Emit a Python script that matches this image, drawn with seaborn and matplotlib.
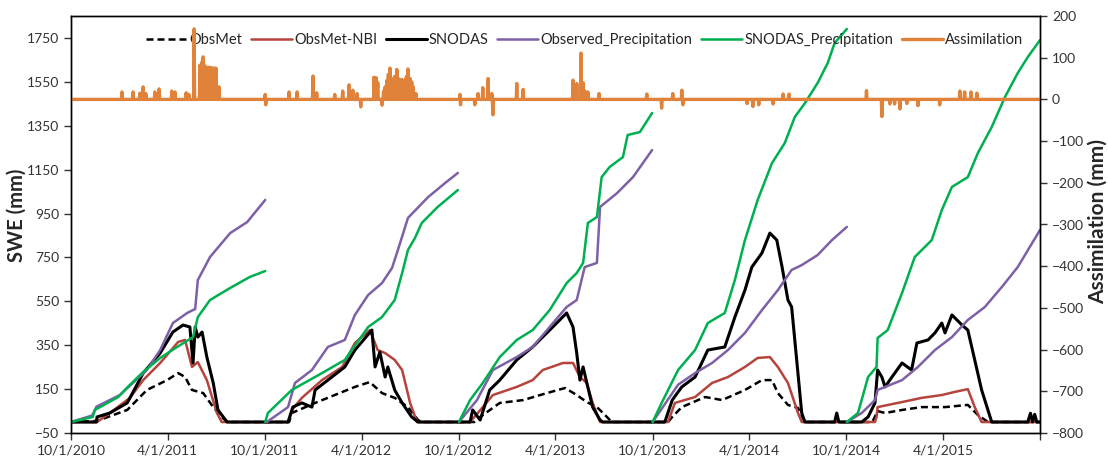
import numpy as np
import pandas as pd
import matplotlib
matplotlib.use('Agg')
import matplotlib.pyplot as plt
import seaborn as sns
from matplotlib.lines import Line2D

START = pd.Timestamp('2010-10-01')
END = pd.Timestamp('2015-10-01')

# day of record (days since 10/1/2010) and SWE in mm, one line per water year
OBSMET_DAY = [0, 49, 106, 143, 181, 202, 215, 228, 249, 268, 286, 296,
              411, 416, 460, 497, 535, 563, 586, 610, 635, 654, 661,
              760, 771, 808, 852, 897, 931, 953, 972, 991, 1010, 1019,
              1125, 1133, 1151, 1195, 1227, 1270, 1302, 1321, 1332, 1351, 1370, 1383,
              1510, 1520, 1534, 1566, 1603, 1647, 1690, 1709, 1728, 1826]
OBSMET_SWE = [0, 5, 55, 146, 191, 223, 205, 146, 132, 68, 18, 0,
              0, 41, 87, 123, 160, 182, 132, 110, 68, 9, 0,
              0, 23, 87, 100, 132, 155, 123, 91, 68, 23, 0,
              0, 23, 68, 114, 100, 146, 191, 191, 132, 78, 64, 0,
              0, 50, 41, 55, 68, 68, 78, 32, 0, 0]

NBI_DAY = [0, 49, 73, 111, 136, 168, 202, 215, 228, 239, 256, 275, 284,
           409, 418, 435, 473, 511, 535, 563, 578, 592, 610, 624, 639, 652,
           752, 776, 795, 840, 870, 889, 927, 946, 959, 972, 983, 997,
           1125, 1138, 1176, 1208, 1238, 1270, 1294, 1317, 1332, 1351, 1370, 1377,
           1515, 1518, 1520, 1566, 1603, 1641, 1665, 1690, 1703, 1716, 1826]
NBI_SWE = [0, 0, 41, 110, 191, 269, 365, 374, 251, 273, 191, 41, 0,
           0, 60, 110, 191, 251, 360, 419, 328, 314, 283, 237, 87, 0,
           0, 68, 123, 160, 191, 237, 269, 269, 205, 178, 87, 0,
           0, 87, 114, 178, 205, 251, 292, 296, 251, 178, 41, 0,
           0, 23, 68, 91, 110, 123, 137, 150, 68, 0, 0]

SNODAS_DAY = [0, 48, 49, 73, 106, 136, 168, 192, 211, 224, 230, 234, 239, 247, 256, 268, 277, 294,
              409, 418, 435, 454, 460, 484, 516, 535, 567, 573, 582, 592, 597, 610, 624, 642, 654,
              752, 757, 771, 789, 808, 840, 870, 902, 921, 934, 946, 953, 959, 965, 972, 983, 997, 1002,
              1119, 1133, 1151, 1176, 1200, 1232, 1251, 1270, 1283, 1302, 1317, 1330, 1340, 1351, 1358,
              1377, 1383, 1439, 1443, 1447,
              1490, 1502, 1515, 1520, 1528, 1534, 1547, 1566, 1584, 1594, 1615, 1628, 1641, 1647, 1660,
              1679, 1690, 1703, 1716, 1735, 1803, 1808, 1812, 1816, 1820, 1826]
SNODAS_SWE = [0, 0, 23, 41, 87, 223, 314, 410, 442, 433, 269, 433, 387, 410, 296, 178, 55, 0,
              0, 68, 87, 68, 146, 191, 251, 328, 419, 251, 319, 205, 251, 146, 87, 23, 0,
              0, 55, 9, 146, 191, 283, 342, 419, 465, 497, 433, 314, 191, 251, 178, 68, 9, 0,
              0, 100, 160, 205, 328, 342, 478, 601, 706, 770, 861, 829, 706, 556, 524,
              41, 0, 0, 41, 0,
              0, 23, 87, 237, 205, 160, 205, 269, 237, 360, 374, 406, 451, 406, 488,
              442, 419, 283, 146, 0, 0, 40, 0, 35, 0, 0]

# cumulative precipitation (mm), restarting each water year
OBS_PRECIP_DAY = [[0, 40, 48, 92, 143, 168, 192, 219, 234, 239, 262, 300, 332, 366],
                  [369, 409, 422, 454, 484, 516, 535, 560, 586, 605, 616, 635, 673, 705, 729],
                  [731, 765, 795, 840, 870, 902, 934, 953, 968, 991, 997, 1029, 1059, 1095],
                  [1096, 1113, 1144, 1176, 1208, 1238, 1270, 1302, 1332, 1358, 1377, 1407, 1434, 1462],
                  [1462, 1490, 1515, 1520, 1566, 1596, 1628, 1660, 1690, 1722, 1754, 1784, 1826]]
OBS_PRECIP = [[0, 30, 70, 123, 237, 328, 451, 497, 515, 647, 752, 861, 911, 1012],
              [0, 68, 178, 237, 342, 374, 488, 579, 633, 702, 784, 930, 1025, 1089, 1135],
              [0, 100, 237, 296, 342, 433, 524, 556, 706, 725, 980, 1043, 1116, 1239],
              [0, 60, 170, 223, 269, 328, 406, 510, 601, 693, 715, 761, 829, 889],
              [0, 41, 100, 146, 191, 251, 328, 387, 465, 524, 615, 706, 875]]

SN_PRECIP_DAY = [[0, 41, 45, 89, 107, 136, 168, 200, 230, 239, 262, 300, 337, 366],
                 [366, 371, 416, 473, 516, 560, 586, 610, 624, 635, 648, 661, 691, 729],
                 [731, 752, 776, 808, 840, 870, 902, 934, 953, 965, 974, 991, 1000, 1015, 1040, 1049, 1072, 1095],
                 [1096, 1113, 1144, 1176, 1200, 1232, 1251, 1270, 1294, 1321, 1345, 1364, 1383, 1407, 1426, 1439, 1462],
                 [1462, 1483, 1502, 1518, 1520, 1539, 1566, 1590, 1622, 1641, 1660, 1690, 1709, 1735, 1760, 1784, 1803, 1826]]
SN_PRECIP = [[0, 23, 55, 114, 160, 228, 292, 342, 387, 478, 556, 611, 661, 688],
             [0, 41, 146, 223, 283, 433, 478, 556, 679, 784, 838, 907, 980, 1057],
             [0, 100, 178, 296, 374, 419, 510, 633, 679, 725, 907, 934, 1116, 1162, 1207, 1308, 1321, 1408],
             [0, 87, 237, 328, 451, 497, 647, 829, 1012, 1180, 1271, 1390, 1453, 1545, 1636, 1727, 1791],
             [0, 41, 205, 251, 383, 419, 588, 752, 829, 966, 1071, 1116, 1226, 1344, 1481, 1590, 1663, 1740]]

# assimilation increments (mm), zero on all other days
ASSIM_DAY = [96, 117, 130, 136, 141, 158, 166, 190, 196, 217, 222, 232,
             243, 245, 247, 249, 251, 253, 255, 257, 259, 261, 263, 265, 267, 269, 271, 273, 279,
             366, 367, 411, 426, 456, 463, 497, 512, 524, 531, 539, 546,
             571, 573, 575, 578, 586,
             589, 592, 595, 598, 601, 604, 607, 610, 614, 617, 620, 623, 625, 627, 629, 632,
             635, 637, 639, 642, 645, 650,
             733, 734, 761, 767, 776, 786, 793, 795, 840, 852, 946, 953, 961, 965, 968, 974, 995,
             1085, 1113, 1134, 1151, 1153, 1274, 1285, 1296, 1323, 1342, 1353,
             1499, 1528, 1543, 1552, 1562, 1575, 1596, 1637, 1675, 1684, 1696, 1707]
ASSIM_MM = [18, 18, 15, 30, 14, 18, 25, 20, 18, 16, 12, 169,
            82, 70, 90, 102, 60, 80, 75, 60, 77, 65, 77, 60, 75, 75, 60, 75, 30,
            12, -13, 18, 18, 56, 16, 12, 20, 35, 22, 14, -18,
            53, 50, 52, 40, -14,
            20, 30, 45, 60, 75, 50, 38, 55, 72, 50, 42, 48, 46, 40, 46, 55,
            73, 50, 50, 42, 30, 14,
            12, -13, -13, 14, 28, 50, 14, -37, 38, 24, 46, 38, 111, 40, 21, 18, 14,
            13, -21, 14, 22, -13, -10, -17, -13, -11, 13, 13,
            21, -41, -11, -11, -23, -10, -15, -13, 20, 18, 18, 15]

XTICK_LABELS = ['10/1/2010', '4/1/2011', '10/1/2011', '4/1/2012', '10/1/2012', '4/1/2013',
                '10/1/2013', '4/1/2014', '10/1/2014', '4/1/2015', '10/1/2015']

LEGEND_LABELS = ['ObsMet', 'ObsMet-NBI', 'SNODAS', 'Observed_Precipitation',
                 'SNODAS_Precipitation', 'Assimilation']

RED = '#B5443D'
PURPLE = '#7D60A6'
GREEN = '#00B050'
ORANGE = '#E0823A'
DASH = (0, (2.8, 1.6))


def swe_frame(days, values):
    df = pd.DataFrame({'day': days, 'value': values})
    df['date'] = START + pd.to_timedelta(df['day'], unit='D')
    return df


def precip_frame(days_by_year, values_by_year):
    parts = []
    for wy, (days, vals) in enumerate(zip(days_by_year, values_by_year)):
        part = swe_frame(days, vals)
        part['wy'] = wy
        parts.append(part)
    return pd.concat(parts, ignore_index=True)


obsmet = swe_frame(OBSMET_DAY, OBSMET_SWE)
nbi = swe_frame(NBI_DAY, NBI_SWE)
snodas = swe_frame(SNODAS_DAY, SNODAS_SWE)
obs_pr = precip_frame(OBS_PRECIP_DAY, OBS_PRECIP)
sn_pr = precip_frame(SN_PRECIP_DAY, SN_PRECIP)

# daily assimilation series
assim_vals = np.zeros((END - START).days + 1)
assim_vals[ASSIM_DAY] = ASSIM_MM
assim = swe_frame(np.arange(len(assim_vals)), assim_vals)

sns.set_style('ticks')
plt.rcParams['font.family'] = ['Lato', 'DejaVu Sans']

fig = plt.figure(figsize=(11.08, 4.61), dpi=100)
ax = fig.add_axes([71 / 1108, 28 / 461, 969 / 1108, 417 / 461])
ax2 = ax.twinx()

sns.lineplot(data=obsmet, x='date', y='value', ax=ax, color='black', lw=1.8,
             linestyle=DASH, estimator=None, legend=False)
sns.lineplot(data=nbi, x='date', y='value', ax=ax, color=RED, lw=1.8,
             estimator=None, legend=False)
sns.lineplot(data=snodas, x='date', y='value', ax=ax, color='black', lw=2.2,
             estimator=None, legend=False)
sns.lineplot(data=obs_pr, x='date', y='value', units='wy', ax=ax, color=PURPLE, lw=1.8,
             estimator=None, legend=False)
sns.lineplot(data=sn_pr, x='date', y='value', units='wy', ax=ax, color=GREEN, lw=1.8,
             estimator=None, legend=False)
sns.lineplot(data=assim, x='date', y='value', ax=ax2, color=ORANGE, lw=2.4,
             estimator=None, legend=False)

ax.set_xlim(START, END)
ax.set_ylim(-50, 1850)
ax2.set_ylim(-800, 200)
ax.set_yticks(np.arange(-50, 1751, 200))
ax2.set_yticks(np.arange(-800, 201, 100))
ax.set_xticks(pd.to_datetime(XTICK_LABELS, format='%m/%d/%Y'))
ax.set_xticklabels(XTICK_LABELS[:-1] + [''])
ax.set_xlabel('')
ax.set_ylabel('')
ax2.set_ylabel('')

for a in (ax, ax2):
    a.tick_params(direction='out', length=5, width=1, labelsize=10, colors='#333333')
    for s in a.spines.values():
        s.set_color('black')
        s.set_linewidth(1)

fig.text(17 / 1108, 1 - 215 / 461, 'SWE (mm)', rotation=90, ha='center', va='center',
         fontsize=14.5, fontweight='bold')
fig.text(1098 / 1108, 1 - 222 / 461, 'Assimilation (mm)', rotation=90, ha='center', va='center',
         fontsize=15, fontweight='bold')

handles = [Line2D([], [], color='black', lw=1.8, linestyle=DASH),
           Line2D([], [], color=RED, lw=1.8),
           Line2D([], [], color='black', lw=2.2),
           Line2D([], [], color=PURPLE, lw=1.8),
           Line2D([], [], color=GREEN, lw=1.8),
           Line2D([], [], color=ORANGE, lw=2.4)]
leg = ax2.legend(handles, LEGEND_LABELS, loc='center', bbox_to_anchor=(0.53, 0.942),
                 ncol=6, frameon=False, handlelength=2.8, handletextpad=0.15,
                 columnspacing=0.6, fontsize=10.5, borderaxespad=0)
leg.set_zorder(1)

fig.savefig('out.png', dpi=100)
